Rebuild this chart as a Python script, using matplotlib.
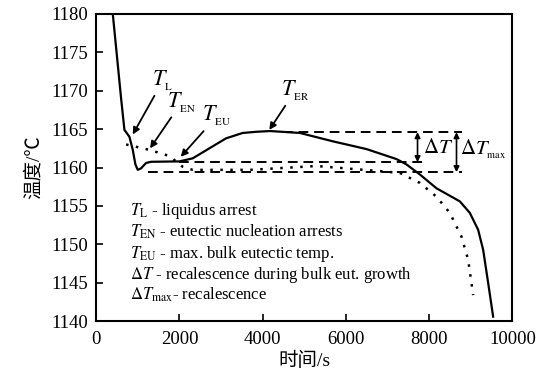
import numpy as np
import matplotlib as mpl
mpl.use('Agg')
import matplotlib.pyplot as plt

plt.rcParams['font.family'] = ['Liberation Serif', 'Noto Sans CJK SC']
plt.rcParams['mathtext.fontset'] = 'stix'

# solid cooling curve
t_solid = [400, 600, 680, 800, 880, 944, 1000, 1080, 1200, 1320, 2000, 2320,
           2720, 3120, 3520, 3840, 4176, 4896, 5696, 6496, 7216, 7456, 7776,
           8176, 8736, 8976, 9176, 9296, 9416, 9536]
T_solid = [1180, 1169.0, 1164.9, 1164.0, 1162.3, 1160.4, 1159.7, 1159.9,
           1160.6, 1160.75, 1160.8, 1161.2, 1162.5, 1163.8, 1164.5, 1164.65,
           1164.75, 1164.5, 1163.4, 1162.4, 1161.1, 1160.4, 1159.1, 1157.3,
           1155.6, 1154.1, 1151.9, 1149.3, 1145.0, 1140.6]

# dotted curve
t_dot = [720, 1280, 1760, 2080, 2320, 3696, 5296, 6896, 7296, 7776, 8176,
         8496, 8776, 8936, 9056]
T_dot = [1163.0, 1162.3, 1161.5, 1160.1, 1159.7, 1159.7, 1160.2, 1159.5,
         1159.3, 1158.0, 1156.2, 1154.1, 1151.0, 1148.0, 1143.4]

# reference levels
T_ER = 1164.6
T_EU = 1160.7
T_min = 1159.4

fig = plt.figure(figsize=(5.4, 3.74), dpi=100)
ax = fig.add_subplot(111)
fig.subplots_adjust(left=0.178, right=0.949, top=0.963, bottom=0.141)

ax.plot(t_solid, T_solid, 'k-', lw=1.6)
ax.plot(t_dot, T_dot, color='k', lw=1.8, linestyle=(0, (1.0, 3.0)))

dash = (0, (5, 3))
ax.plot([4500, 8780], [T_ER, T_ER], 'k', lw=1.4, linestyle=dash)
ax.plot([2000, 7900], [T_EU, T_EU], 'k', lw=1.4, linestyle=dash)
ax.plot([1240, 8780], [T_min, T_min], 'k', lw=1.4, linestyle=dash)

arr = dict(arrowstyle='<|-|>', color='k', lw=1.2, mutation_scale=8,
           shrinkA=0, shrinkB=0)
ax.annotate('', xy=(7720, T_EU), xytext=(7720, T_ER), arrowprops=arr)
ax.annotate('', xy=(8656, T_min), xytext=(8656, T_ER), arrowprops=arr)
ax.text(7860, 1162.5, r'$\Delta T$', fontsize=15, va='center')
ax.text(8740, 1162.4, r'$\Delta T_{{}_{\rm max}}$', fontsize=15, va='center')

one = dict(arrowstyle='-|>', color='k', lw=1.3, mutation_scale=10,
           shrinkA=0, shrinkB=0)
ax.annotate(r'$T_{{}_{\rm L}}$', xy=(880, 1164.3), xytext=(1600, 1169.7),
            arrowprops=one, fontsize=16, ha='center', va='bottom')
ax.annotate(r'$T_{{}_{\rm EN}}$', xy=(1296, 1162.5), xytext=(2050, 1166.9),
            arrowprops=one, fontsize=16, ha='center', va='bottom')
ax.annotate(r'$T_{{}_{\rm EU}}$', xy=(2032, 1161.4), xytext=(2900, 1165.1),
            arrowprops=one, fontsize=16, ha='center', va='bottom')
ax.annotate(r'$T_{{}_{\rm ER}}$', xy=(4160, 1164.9), xytext=(4780, 1168.4),
            arrowprops=one, fontsize=16, ha='center', va='bottom')

notes = [r'$T_{\rm L}$ - liquidus arrest',
         r'$T_{\rm EN}$ - eutectic nucleation arrests',
         r'$T_{\rm EU}$ - max. bulk eutectic temp.',
         r'$\Delta T$ - recalescence during bulk eut. growth',
         r'$\Delta T_{\rm max}$- recalescence']
note_y = [1154.4, 1151.6, 1148.8, 1146.0, 1143.4]
for s, y in zip(notes, note_y):
    ax.text(816, y, s, fontsize=12, va='center')

ax.set_xlim(0, 10000)
ax.set_ylim(1140, 1180)
ax.set_xticks([0, 2000, 4000, 6000, 8000, 10000])
ax.set_yticks(np.arange(1140, 1181, 5))
ax.tick_params(direction='in', length=5, width=1.2, labelsize=13.5,
               top=False, right=False)
ax.tick_params(axis='y', pad=6)
ax.tick_params(axis='x', pad=7)
for sp in ax.spines.values():
    sp.set_linewidth(1.5)
ax.set_xlabel('时间/s', fontsize=14, labelpad=3)
ax.set_ylabel('温度/℃', fontsize=14, labelpad=6)

plt.savefig('out.png', dpi=100)
